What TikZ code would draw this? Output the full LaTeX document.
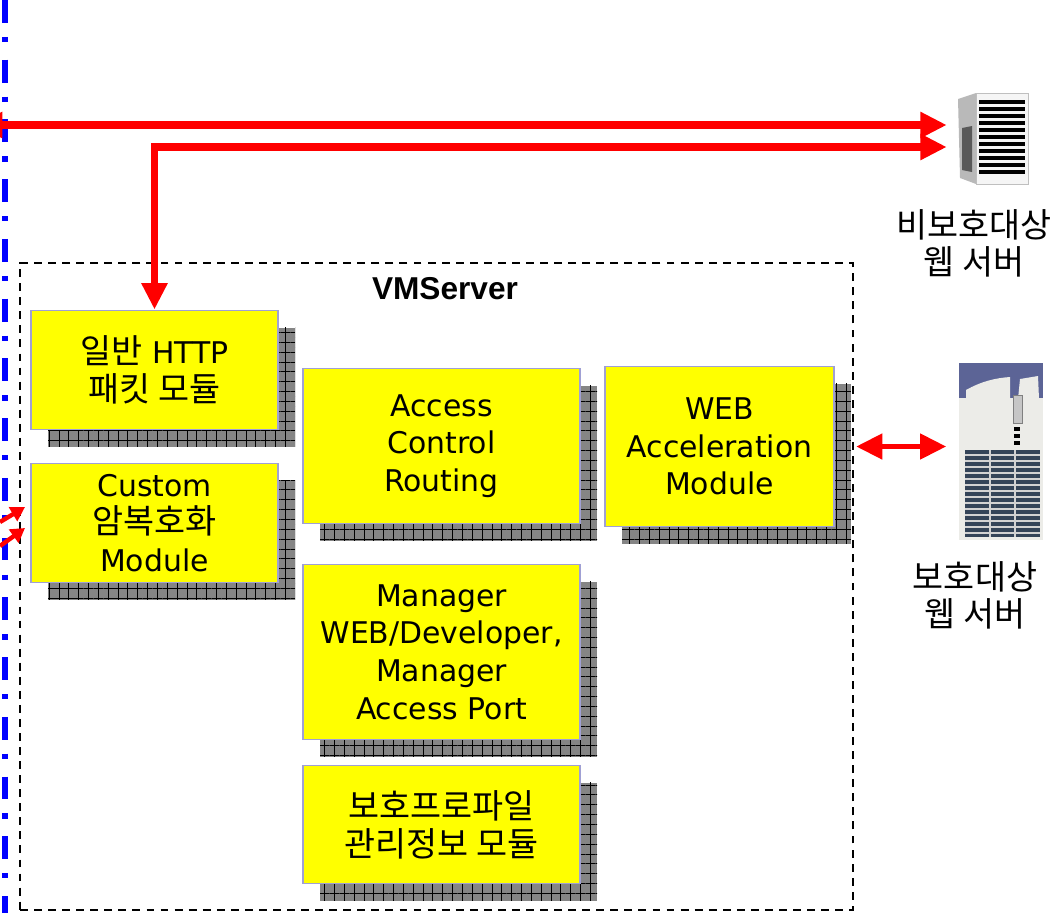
\documentclass[tikz,border=0pt]{standalone}
\usepackage{fontspec}
\setmainfont{DejaVu Sans}
\newfontfamily\kr[Scale=1.13]{Noto Sans CJK KR}
\newfontfamily\titlefont{Liberation Sans}
\usetikzlibrary{arrows.meta,positioning,fit,patterns.meta}
\definecolor{modfill}{RGB}{255,255,0}
\definecolor{modedge}{RGB}{160,160,212}
\definecolor{linkred}{RGB}{255,0,0}
\definecolor{netblue}{RGB}{0,0,255}
\definecolor{srvblue}{RGB}{92,100,150}
\definecolor{srvbody}{RGB}{236,236,232}
\definecolor{srvdark}{RGB}{52,68,88}
% module box (centre, width, height in px) with its hatched drop shadow
\newcommand{\modbox}[5]{%
  \node[modshade,minimum width=#3*0.02cm,minimum height=#4*0.02cm] at ([shift={(17,17)}]#2) {};
  \node[modbox,minimum width=#3*0.02cm,minimum height=#4*0.02cm] (#1) at (#2) {#5};}
\tikzset{
  netline/.style={draw=netblue,line width=3.4pt,dash pattern=on 13pt off 8pt on 3pt off 10pt},
  vmframe/.style={draw=black,line width=1.1pt,dash pattern=on 4.5pt off 3.5pt,inner sep=0pt},
  modbox/.style={draw=modedge,line width=1.1pt,fill=modfill,inner sep=0pt,align=center,
    font=\fontsize{17}{21.5}\selectfont},
  modshade/.style={fill=black!48,inner sep=0pt,
    postaction={pattern={Hatch[distance=5.6pt,line width=0.5pt]},pattern color=black}},
  link/.style={draw=linkred,line width=4.5pt,
    {Triangle[length=15pt,width=14pt]}-{Triangle[length=15pt,width=14pt]}},
  smalllink/.style={draw=linkred,line width=2.5pt,-{Triangle[length=8pt,width=9pt]}},
  srvlabel/.style={align=center,font=\kr\fontsize{17}{21}\selectfont},
}
\begin{document}
\begin{tikzpicture}[x=0.02cm,y=-0.02cm]
\useasboundingbox (0,0) rectangle (1057,913);
% network boundary
\draw[netline] (5,0) -- (5,913);
% VMServer frame
\node[vmframe,fit={(20,263) (853,910)}] (vms) {};
\node[font=\titlefont\bfseries\fontsize{18}{20}\selectfont] (vmstitle) at (445,289) {VMServer};
% modules
\modbox{http}{154.5,370}{247}{119}{{\kr 일반} HTTP\\{\kr 패킷 모듈}}
\modbox{custom}{154.5,523}{247}{119}{Custom\\{\kr 암복호화}\\Module}
\modbox{acr}{441.5,446}{277}{155}{Access\\Control\\Routing}
\modbox{web}{719.5,446.5}{229}{160}{WEB\\Acceleration\\Module}
\modbox{mgr}{441.5,652}{277}{175}{Manager\\WEB/Developer,\\Manager\\Access Port}
\modbox{prof}{441.5,824.5}{277}{118}{{\kr 보호프로파일}\\{\kr 관리정보 모듈}}
% unprotected web server
\fill[gray!55] (958,99) -- (976,93) -- (976,184) -- (960,178) -- cycle;
\fill[black!65] (962,128) -- (972,126) -- (972,172) -- (962,170) -- cycle;
\filldraw[fill=gray!8,draw=gray!50] (976,93) rectangle (1028,184);
\foreach \y in {102,109,...,177} \draw[line width=2pt] (979,\y) -- (1025,\y);
\node[fit={(955,92) (1028,185)},inner sep=0pt] (srvA) {};
\node[srvlabel] (srvAlbl) at (974,243) {비보호대상\\웹 서버};
% protected web server
\fill[srvbody] (959,363) rectangle (1043,540);
\fill[srvblue] (959,363) rectangle (1043,398);
\fill[srvbody] (966,399) -- (966,390) .. controls (982,381) and (996,378) .. (1010,377) -- (1010,399) -- cycle;
\fill[srvbody] (1018,399) -- (1020,379) -- (1038,376) -- (1039,399) -- cycle;
\filldraw[fill=gray!45,draw=gray] (1013,395) rectangle (1022,423);
\foreach \y in {427,434,441} \fill (1014,\y) rectangle (1020,\y+4);
\fill[srvdark] (965,450) rectangle (1040,537);
\foreach \y in {455,461,...,533} \draw[gray!35,line width=0.6pt] (965,\y) -- (1040,\y);
\foreach \x in {990,1015} \draw[gray!35,line width=0.6pt] (\x,450) -- (\x,537);
\node[fit={(959,363) (1043,540)},inner sep=0pt] (srvB) {};
\node[srvlabel] (srvBlbl) at (975,595) {보호대상\\웹 서버};
% traffic links
\coordinate (wan) at (-24,125);
\draw[link,shorten >=4.5pt] (wan) -- (wan -| srvA.west);
\draw[link,shorten >=4.5pt] (http.north) |- ([yshift=-0.17cm]srvA.west);
\draw[link,line width=3.4pt,shorten <=12pt,shorten >=7pt] (web.east) -- (web.east -| srvB.west);
\coordinate (inA) at (0,522);
\coordinate (inB) at (0,546);
\draw[smalllink] (inA) -- ([shift={(-5,-16)}]custom.west);
\draw[smalllink] (inB) -- ([shift={(-5,5)}]custom.west);
\end{tikzpicture}
\end{document}
